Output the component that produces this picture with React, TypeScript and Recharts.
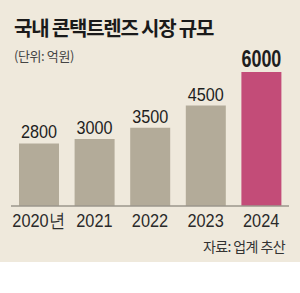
import { Bar, BarChart, Cell, LabelList, XAxis, YAxis } from "recharts";

const years = ["2020년", "2021", "2022", "2023", "2024"];
const marketSize = [2800, 3000, 3500, 4500, 6000];
const highlightYear = "2024";

const chartData = years.map((year, i) => ({ year, value: marketSize[i] }));

const numFont = '"Liberation Sans", Arial, sans-serif';
const krFont = '"Noto Sans CJK KR", "Noto Sans", sans-serif';

// the source uses a condensed face, so squeeze the text horizontally
function ValueLabel(props: any) {
  const { x, y, width, value, index } = props;
  const isLast = years[index] === highlightYear;
  const cx = x + width / 2;
  const cy = y - 5;
  return (
    <text
      transform={`translate(${cx},${cy}) scale(${isLast ? 0.78 : 0.9},1)`}
      textAnchor="middle"
      fill="#1e1e1e"
      fontFamily={numFont}
      fontSize={isLast ? 23 : 18}
      fontWeight={isLast ? 700 : 400}
    >
      {value}
    </text>
  );
}

function YearTick(props: any) {
  const { x, y, payload } = props;
  return (
    <text
      transform={`translate(${x},${y}) scale(0.86,1)`}
      textAnchor="middle"
      dy="0.71em"
      fill="#2a2a2a"
      fontFamily={numFont}
      fontSize={19}
    >
      {payload.value}
    </text>
  );
}

export default function App() {
  return (
    <div
      style={{
        position: "absolute",
        top: 0,
        left: 0,
        width: 300,
        height: 293,
        background: "#ffffff",
      }}
    >
      <div
        style={{
          position: "relative",
          width: 300,
          height: 262,
          background: "#efe9dc",
        }}
      >
        <div
          style={{
            position: "absolute",
            left: 14,
            top: 16,
            fontFamily: krFont,
            fontSize: 20,
            fontWeight: 700,
            lineHeight: "24px",
            letterSpacing: -1.2,
            color: "#1a1a1a",
            whiteSpace: "nowrap",
          }}
        >
          국내 콘택트렌즈 시장 규모
        </div>
        <div
          style={{
            position: "absolute",
            left: 14,
            top: 47,
            fontFamily: krFont,
            fontSize: 13,
            lineHeight: "18px",
            letterSpacing: -0.4,
            color: "#444",
            whiteSpace: "nowrap",
          }}
        >
          (단위: 억원)
        </div>
        <BarChart
          width={300}
          height={262}
          data={chartData}
          margin={{ top: 72, right: 11, bottom: 0, left: 11 }}
          barSize={40}
        >
          <XAxis
            dataKey="year"
            height={56}
            tickLine={false}
            tickMargin={1}
            axisLine={{ stroke: "#9b968c", strokeWidth: 1.5 }}
            tick={<YearTick />}
            interval={0}
          />
          <YAxis hide domain={[0, 6000]} />
          <Bar dataKey="value" isAnimationActive={false}>
            {chartData.map((d) => (
              <Cell key={d.year} fill={d.year === highlightYear ? "#c34c78" : "#b3ab99"} />
            ))}
            <LabelList dataKey="value" content={<ValueLabel />} />
          </Bar>
        </BarChart>
        <div
          style={{
            position: "absolute",
            right: 15,
            top: 237,
            fontFamily: krFont,
            fontSize: 14,
            lineHeight: "18px",
            letterSpacing: -0.6,
            color: "#333",
            whiteSpace: "nowrap",
          }}
        >
          자료: 업계 추산
        </div>
      </div>
    </div>
  );
}
